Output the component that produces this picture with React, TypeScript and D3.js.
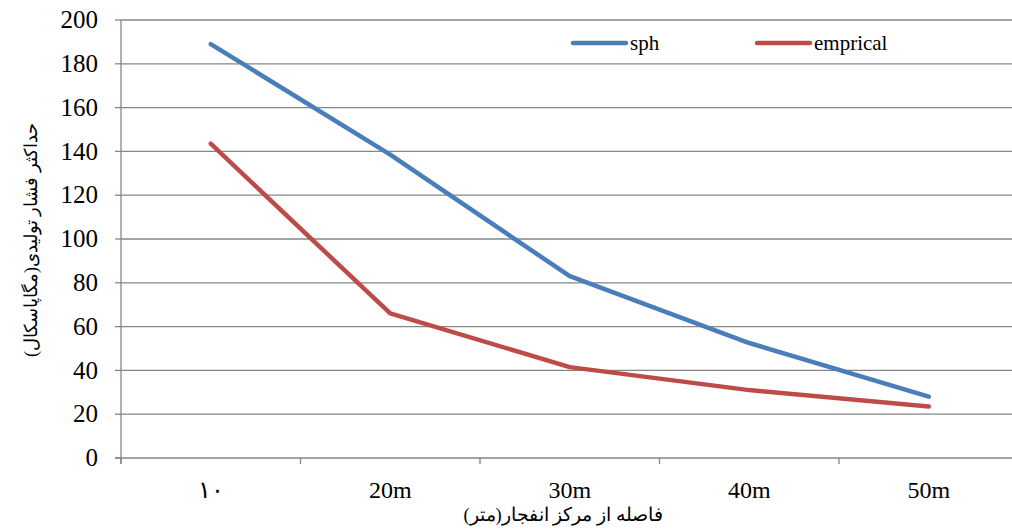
import React from "react";
import * as d3 from "d3";

const categories = ["۱۰", "20m", "30m", "40m", "50m"];
const sphValues = [189, 138.5, 83, 52.5, 28];
const empiricalValues = [143.5, 66, 41.5, 31, 23.5];
const yTicks = [0, 20, 40, 60, 80, 100, 120, 140, 160, 180, 200];
const seriesNames = ["sph", "emprical"];
const seriesColors = ["#4a7ebb", "#be4b48"];

const W = 1012;
const H = 530;
const left = 121;
const right = 1018.5;
const top = 20;
const bottom = 458;
const F = 'Tinos, "Times New Roman", "Liberation Serif"';

export default function App() {
  const x = d3.scalePoint<string>().domain(categories).range([left, right]).padding(0.5);
  const y = d3.scaleLinear().domain([0, 200]).range([bottom, top]);
  const step = x.step();
  const line = d3
    .line<number>()
    .x((_, i) => x(categories[i]) as number)
    .y((d) => y(d));
  const series = [sphValues, empiricalValues];
  const grid = "#868686";
  const boundaries = d3.range(categories.length + 1).map((i) => left + i * step);

  return (
    <svg width={W} height={H} style={{ fontFamily: F, position: "absolute", left: 0, top: 0 }}>
      {yTicks.map((t) => (
        <g key={t}>
          {t > 0 && <line x1={left} x2={W} y1={y(t)} y2={y(t)} stroke={grid} strokeWidth={1.3} />}
          <line x1={left - 6} x2={left} y1={y(t)} y2={y(t)} stroke={grid} strokeWidth={1.3} />
          <text x={98} y={y(t)} dy="0.33em" textAnchor="end" fontSize={25} style={{ fontFamily: F }}>
            {String(t)}
          </text>
        </g>
      ))}
      <line x1={left} x2={left} y1={top} y2={bottom + 6} stroke={grid} strokeWidth={1.3} />
      <line x1={left - 6} x2={W} y1={bottom} y2={bottom} stroke={grid} strokeWidth={1.3} />
      {boundaries.map((b, i) => (
        <line key={i} x1={b} x2={b} y1={bottom} y2={bottom + 6} stroke={grid} strokeWidth={1.3} />
      ))}
      {categories.map((c) => (
        <text key={c} x={x(c)} y={498} textAnchor="middle" fontSize={24} style={{ fontFamily: F }}>
          {c}
        </text>
      ))}
      {series.map((s, i) => (
        <path
          key={i}
          d={line(s) || ""}
          fill="none"
          stroke={seriesColors[i]}
          strokeWidth={4.5}
          strokeLinecap="round"
          strokeLinejoin="round"
        />
      ))}
      {seriesNames.map((n, i) => {
        const lx = i === 0 ? 573 : 757;
        return (
          <g key={n}>
            <line x1={lx} x2={lx + 53} y1={43} y2={43} stroke={seriesColors[i]} strokeWidth={4.5} strokeLinecap="round" />
            <text x={lx + 57} y={43} dy="0.32em" fontSize={21} style={{ fontFamily: F }}>
              {n}
            </text>
          </g>
        );
      })}
      <text x={563} y={521} textAnchor="middle" fontSize={18.5} direction="rtl" style={{ fontFamily: F }}>
        فاصله از مرکز انفجار(متر)
      </text>
      <text
        transform="translate(37,240) rotate(-90)"
        textAnchor="middle"
        fontSize={18}
        direction="rtl"
        style={{ fontFamily: F }}
      >
        حداکثر فشار تولیدی(مگاپاسکال)
      </text>
    </svg>
  );
}
